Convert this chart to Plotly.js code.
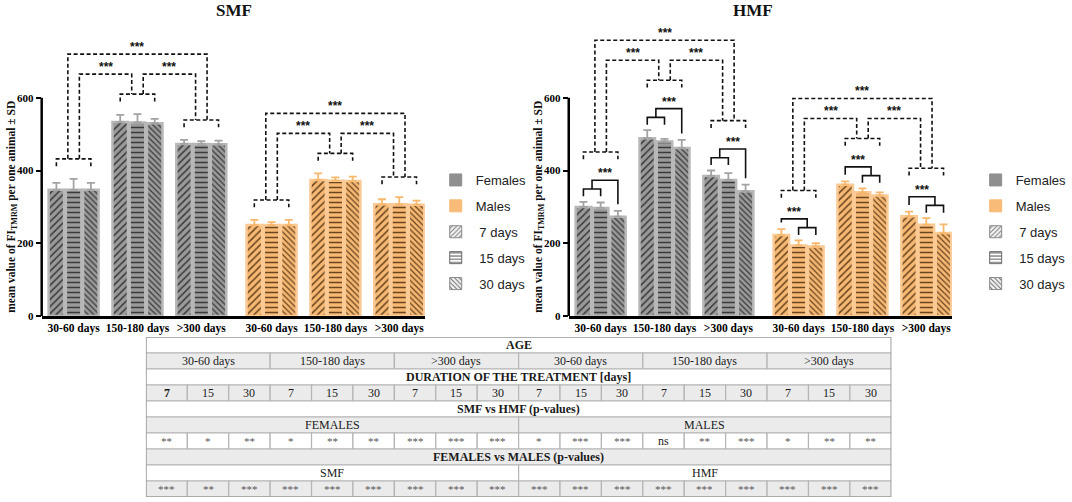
<!DOCTYPE html>
<html><head><meta charset="utf-8">
<script src="https://cdn.plot.ly/plotly-3.0.1.min.js"></script>
<style>body{margin:0;background:#fff}#chart{width:1072px;height:502px}</style>
</head><body><div id="chart"></div>
<script>
// ---------- data ----------
const ageGroups = ['30-60 days', '150-180 days', '>300 days'];
const sexes = ['Females', 'Males'];
const durations = ['7 days', '15 days', '30 days'];
const yTicks = [0, 200, 400, 600];

// rows: age groups; columns: 7, 15, 30 days
const smfFemalesMean = [[347, 347, 347], [533, 532, 530], [473, 473, 472]];
const smfFemalesSD   = [[19, 30, 19], [20, 23, 12], [11, 8, 10]];
const smfMalesMean   = [[250, 250, 250], [374, 372, 371], [307, 307, 306]];
const smfMalesSD     = [[14, 8, 14], [18, 9, 12], [14, 20, 11]];
const hmfFemalesMean = [[300, 297, 273], [489, 480, 462], [385, 374, 343]];
const hmfFemalesSD   = [[14, 15, 16], [22, 7, 22], [15, 19, 18]];
const hmfMalesMean   = [[223, 194, 191], [361, 340, 331], [274, 251, 228]];
const hmfMalesSD     = [[16, 14, 9], [9, 11, 9], [13, 18, 24]];

const sigLabel = '***';

// table
const tableDurations = ['7', '15', '30'];
const smfVsHmfFemales = ['**', '*', '**', '*', '**', '**', '***', '***', '***'];
const smfVsHmfMales   = ['*', '***', '***', 'ns', '**', '***', '*', '**', '**'];
const femVsMaleSMF    = ['***', '**', '***', '***', '***', '***', '***', '***', '***'];
const femVsMaleHMF    = ['***', '***', '***', '***', '***', '***', '***', '***', '***'];

// ---------- styles ----------
const W = 1072, H = 502;
const serif = 'Liberation Serif', sans = 'Liberation Sans';
const bargap = 0.19, sexGap = 0.1;
const slot = (1 - bargap) / 3;
const patShapes = ['/', '-', '\\'];
const patSizes = [5, 5, 4];
const sty = [
  {bg: '#9a9a9a', fg: '#3a3a3a', line: '#b8b8b8', err: '#a3a3a3'},
  {bg: '#f6b872', fg: '#6a4520', line: '#fcca95', err: '#f7b86e'}
];
const dashStyle = '4px,2.5px';
const starFont = {family: sans, size: 12, color: '#111', weight: 'bold'};

const xpos = (s, g) => s * 3 + g + s * sexGap;
const bx = (s, g, di) => xpos(s, g) + (di - 1) * slot;

const traces = [], shapes = [], annotations = [];

function addChart(xa, ya, meanArr, sdArr, solid) {
  const xref = xa, yref = ya;
  meanArr.forEach((means, s) => {
    const sds = sdArr[s];
    durations.forEach((d, di) => {
      traces.push({
        type: 'bar', xaxis: xa, yaxis: ya, showlegend: false, hoverinfo: 'skip',
        offsetgroup: 'd' + di,
        x: ageGroups.map((_, g) => xpos(s, g)),
        y: means.map(r => r[di]),
        error_y: {type: 'data', symmetric: false, array: sds.map(r => r[di]),
                  arrayminus: means.map(() => 0), color: sty[s].err, thickness: 1.8, width: 4},
        marker: {color: sty[s].bg, line: {color: sty[s].line, width: 2.5},
                 pattern: {shape: patShapes[di], fgcolor: sty[s].fg, bgcolor: sty[s].bg,
                           size: patSizes[di], solidity: 0.3, fillmode: 'replace'}}
      });
    });
    // significance brackets
    const brY = [];
    ageGroups.forEach((_, g) => {
      const tops = means[g].map((v, i) => v + sds[g][i]);
      let base = Math.max(...tops);
      if (solid) {
        const b0 = bx(s, g, 0), b1 = bx(s, g, 1), b2 = bx(s, g, 2);
        let path, sx, y2;
        if (s === 0) {
          const legIn = Math.max(tops[0], tops[1]) + 15, y1 = legIn + 20; y2 = y1 + 24;
          const m = (b0 + b1) / 2;
          path = `M${b0},${legIn}L${b0},${y1}L${b1},${y1}L${b1},${legIn}M${m},${y1}L${m},${y2}L${b2},${y2}L${b2},${tops[2] + 18}`;
          sx = (m + b2) / 2;
        } else {
          const legIn = Math.max(tops[1], tops[2]) + 15, y1 = legIn + 20; y2 = y1 + 24;
          const m = (b1 + b2) / 2;
          path = `M${b1},${legIn}L${b1},${y1}L${b2},${y1}L${b2},${legIn}M${m},${y1}L${m},${y2}L${b0},${y2}L${b0},${tops[0] + 18}`;
          sx = (m + b0) / 2;
        }
        shapes.push({type: 'path', xref, yref, path, line: {color: '#111', width: 1.6}});
        annotations.push({xref, yref, x: sx, y: y2, text: sigLabel, showarrow: false, yanchor: 'bottom',
                          yshift: -2, font: starFont});
        base = y2 + 23;
      }
      const legY = base + 35, by = legY + 20;
      brY.push(by);
      const b0 = bx(s, g, 0), b2 = bx(s, g, 2);
      shapes.push({type: 'path', xref, yref, path: `M${b0},${legY}L${b0},${by}L${b2},${by}L${b2},${legY}`,
                   line: {color: '#111', width: 1.6, dash: dashStyle}});
    });
    const L1 = Math.max(...brY) + 55, L2 = L1 + 55, dd = 0.09;
    const c = ageGroups.map((_, g) => xpos(s, g));
    const pairs = [
      [c[0] + dd, brY[0], c[1] - dd, brY[1], L1],
      [c[1] + dd, brY[1], c[2] - dd, brY[2], L1],
      [c[0] - dd, brY[0], c[2] + dd, brY[2], L2]
    ];
    pairs.forEach(([xa0, ya0, xa1, ya1, L]) => {
      shapes.push({type: 'path', xref, yref, path: `M${xa0},${ya0}L${xa0},${L}L${xa1},${L}L${xa1},${ya1}`,
                   line: {color: '#111', width: 1.6, dash: dashStyle}});
      annotations.push({xref, yref, x: (xa0 + xa1) / 2, y: L, text: sigLabel, showarrow: false, yanchor: 'bottom',
                        yshift: -2, font: starFont});
    });
  });
  // y axis line 0..600
  shapes.push({type: 'line', xref: xa + ' domain', yref: ya, x0: 0, x1: 0, y0: 0, y1: yTicks[yTicks.length - 1],
               line: {color: '#000', width: 2.5}});
}

addChart('x', 'y', [smfFemalesMean, smfMalesMean], [smfFemalesSD, smfMalesSD], false);
addChart('x2', 'y2', [hmfFemalesMean, hmfMalesMean], [hmfFemalesSD, hmfMalesSD], true);

// legends (dummy entries on hidden table axes)
['legend', 'legend2'].forEach(L => {
  const items = [
    {name: sexes[0], color: '#8f8f8f', line: '#8f8f8f', pat: ''},
    {name: sexes[1], color: '#f9bb78', line: '#f9bb78', pat: ''},
    {name: ' ' + durations[0], color: '#f4f4f4', line: '#8a8a8a', pat: '/', fg: '#777'},
    {name: ' ' + durations[1], color: '#ffffff', line: '#6a6a6a', pat: '-', fg: '#555'},
    {name: ' ' + durations[2], color: '#f4f4f4', line: '#8a8a8a', pat: '\\', fg: '#666'}
  ];
  items.forEach((it, i) => {
    traces.push({type: 'bar', xaxis: 'x3', yaxis: 'y3', x: [null], y: [null], name: it.name,
      legend: L, legendgroup: L + i, showlegend: true, hoverinfo: 'skip',
      marker: {color: it.color, line: {color: it.line, width: 1},
               pattern: it.pat ? {shape: it.pat, fgcolor: it.fg, bgcolor: it.color, size: 4, solidity: 0.3} : {shape: ''}}});
  });
});

// table (on a hidden axis pair x3/y3: 18 columns, 10 rows)
const gray = '#ebebeb', white = '#ffffff';
const single = arr => arr.map(t => ({t, span: 1}));
const tableRows = [
  {bg: white, cells: [{t: 'AGE', span: 18, b: true}]},
  {bg: gray, cells: ageGroups.concat(ageGroups).map(t => ({t, span: 3}))},
  {bg: white, cells: [{t: 'DURATION OF THE TREATMENT [days]', span: 18, b: true}]},
  {bg: gray, cells: single([].concat(...Array.from({length: 6}, () => tableDurations))).map((c, i) => i === 0 ? {...c, b: true} : c)},
  {bg: white, cells: [{t: 'SMF vs HMF (p-values)', span: 18, b: true}]},
  {bg: gray, cells: [{t: sexes[0].toUpperCase(), span: 9}, {t: sexes[1].toUpperCase(), span: 9}]},
  {bg: white, cells: single(smfVsHmfFemales.concat(smfVsHmfMales)), small: true},
  {bg: gray, cells: [{t: 'FEMALES vs MALES (p-values)', span: 18, b: true}]},
  {bg: white, cells: [{t: 'SMF', span: 9}, {t: 'HMF', span: 9}]},
  {bg: gray, cells: single(femVsMaleSMF.concat(femVsMaleHMF)), small: true}
];
tableRows.forEach((row, r) => {
  let col = 0;
  row.cells.forEach(cell => {
    shapes.push({type: 'rect', xref: 'x3', yref: 'y3', x0: col, x1: col + cell.span, y0: r, y1: r + 1,
                 fillcolor: row.bg, line: {color: '#b4b4b4', width: 1.2}, layer: 'below'});
    const isStar = row.small && cell.t !== 'ns';
    annotations.push({xref: 'x3', yref: 'y3', x: col + cell.span / 2, y: r + 0.5, text: cell.t, showarrow: false,
      font: {family: serif, size: isStar ? 11 : 12, color: isStar ? '#555' : '#1a1a1a', weight: cell.b ? 'bold' : 'normal'}});
    col += cell.span;
  });
});
shapes.push({type: 'rect', xref: 'x3', yref: 'y3', x0: 0, x1: 18, y0: 0, y1: tableRows.length,
             line: {color: '#a0a0a0', width: 1.5}, layer: 'below'});

// titles
const yTitle = 'mean value of FI<sub>TMRM</sub> per one animal ± SD';
[['y', 12], ['y2', 543]].forEach(([ya, px]) => {
  annotations.push({xref: 'paper', yref: ya, x: px / W, y: 300, text: yTitle, textangle: -90, showarrow: false,
    xanchor: 'center', yanchor: 'middle', font: {family: serif, size: 11.5, color: '#111', weight: 'bold'}});
});
[['SMF', 236], ['HMF', 759]].forEach(([t, px]) => {
  annotations.push({xref: 'paper', yref: 'paper', x: px / W, y: 1 - 11 / H, text: t, showarrow: false,
    xanchor: 'center', yanchor: 'middle', font: {family: serif, size: 17, color: '#111', weight: 'bold'}});
});

const tickText = ageGroups.concat(ageGroups);
const tickVals = [0, 1].flatMap(s => ageGroups.map((_, g) => xpos(s, g)));
const xCommon = {range: [-0.5, 5.5], tickvals: tickVals, ticktext: tickText, showline: true, linecolor: '#000',
  linewidth: 2.5, ticks: '', showgrid: false, zeroline: false, fixedrange: true,
  tickfont: {family: serif, size: 11.5, color: '#000', weight: 'bold'}};
const yCommon = {range: [0, 800], tickvals: yTicks, ticks: 'outside', ticklen: 5, tickwidth: 2, tickcolor: '#000',
  showline: false, showgrid: false, zeroline: false, fixedrange: true, domain: [1 - 316 / H, 1 - 25 / H],
  tickfont: {family: serif, size: 11, color: '#000', weight: 'bold'}};
const legCommon = {yanchor: 'top', xanchor: 'left', y: 1 - 165 / H, bgcolor: 'rgba(0,0,0,0)',
  font: {family: sans, size: 13, color: '#222'}, tracegroupgap: 6};

const layout = {
  width: W, height: H, margin: {l: 0, r: 0, t: 0, b: 0}, paper_bgcolor: '#fff', plot_bgcolor: 'rgba(0,0,0,0)',
  barmode: 'group', bargap: bargap, bargroupgap: 0.1, hovermode: false,
  xaxis: {...xCommon, domain: [42 / W, 428 / W], anchor: 'y'},
  yaxis: {...yCommon, anchor: 'x'},
  xaxis2: {...xCommon, domain: [573 / W, 959 / W], anchor: 'y2'},
  yaxis2: {...yCommon, anchor: 'x2'},
  xaxis3: {domain: [147 / W, 898 / W], range: [0, 18], visible: false, anchor: 'y3', fixedrange: true},
  yaxis3: {domain: [1 - 497 / H, 1 - 337 / H], range: [10, 0], visible: false, anchor: 'x3', fixedrange: true},
  legend: {...legCommon, x: 439 / W},
  legend2: {...legCommon, x: 983 / W},
  shapes, annotations, showlegend: true
};

Plotly.newPlot('chart', traces, layout, {displayModeBar: false, staticPlot: true});
</script></body></html>
